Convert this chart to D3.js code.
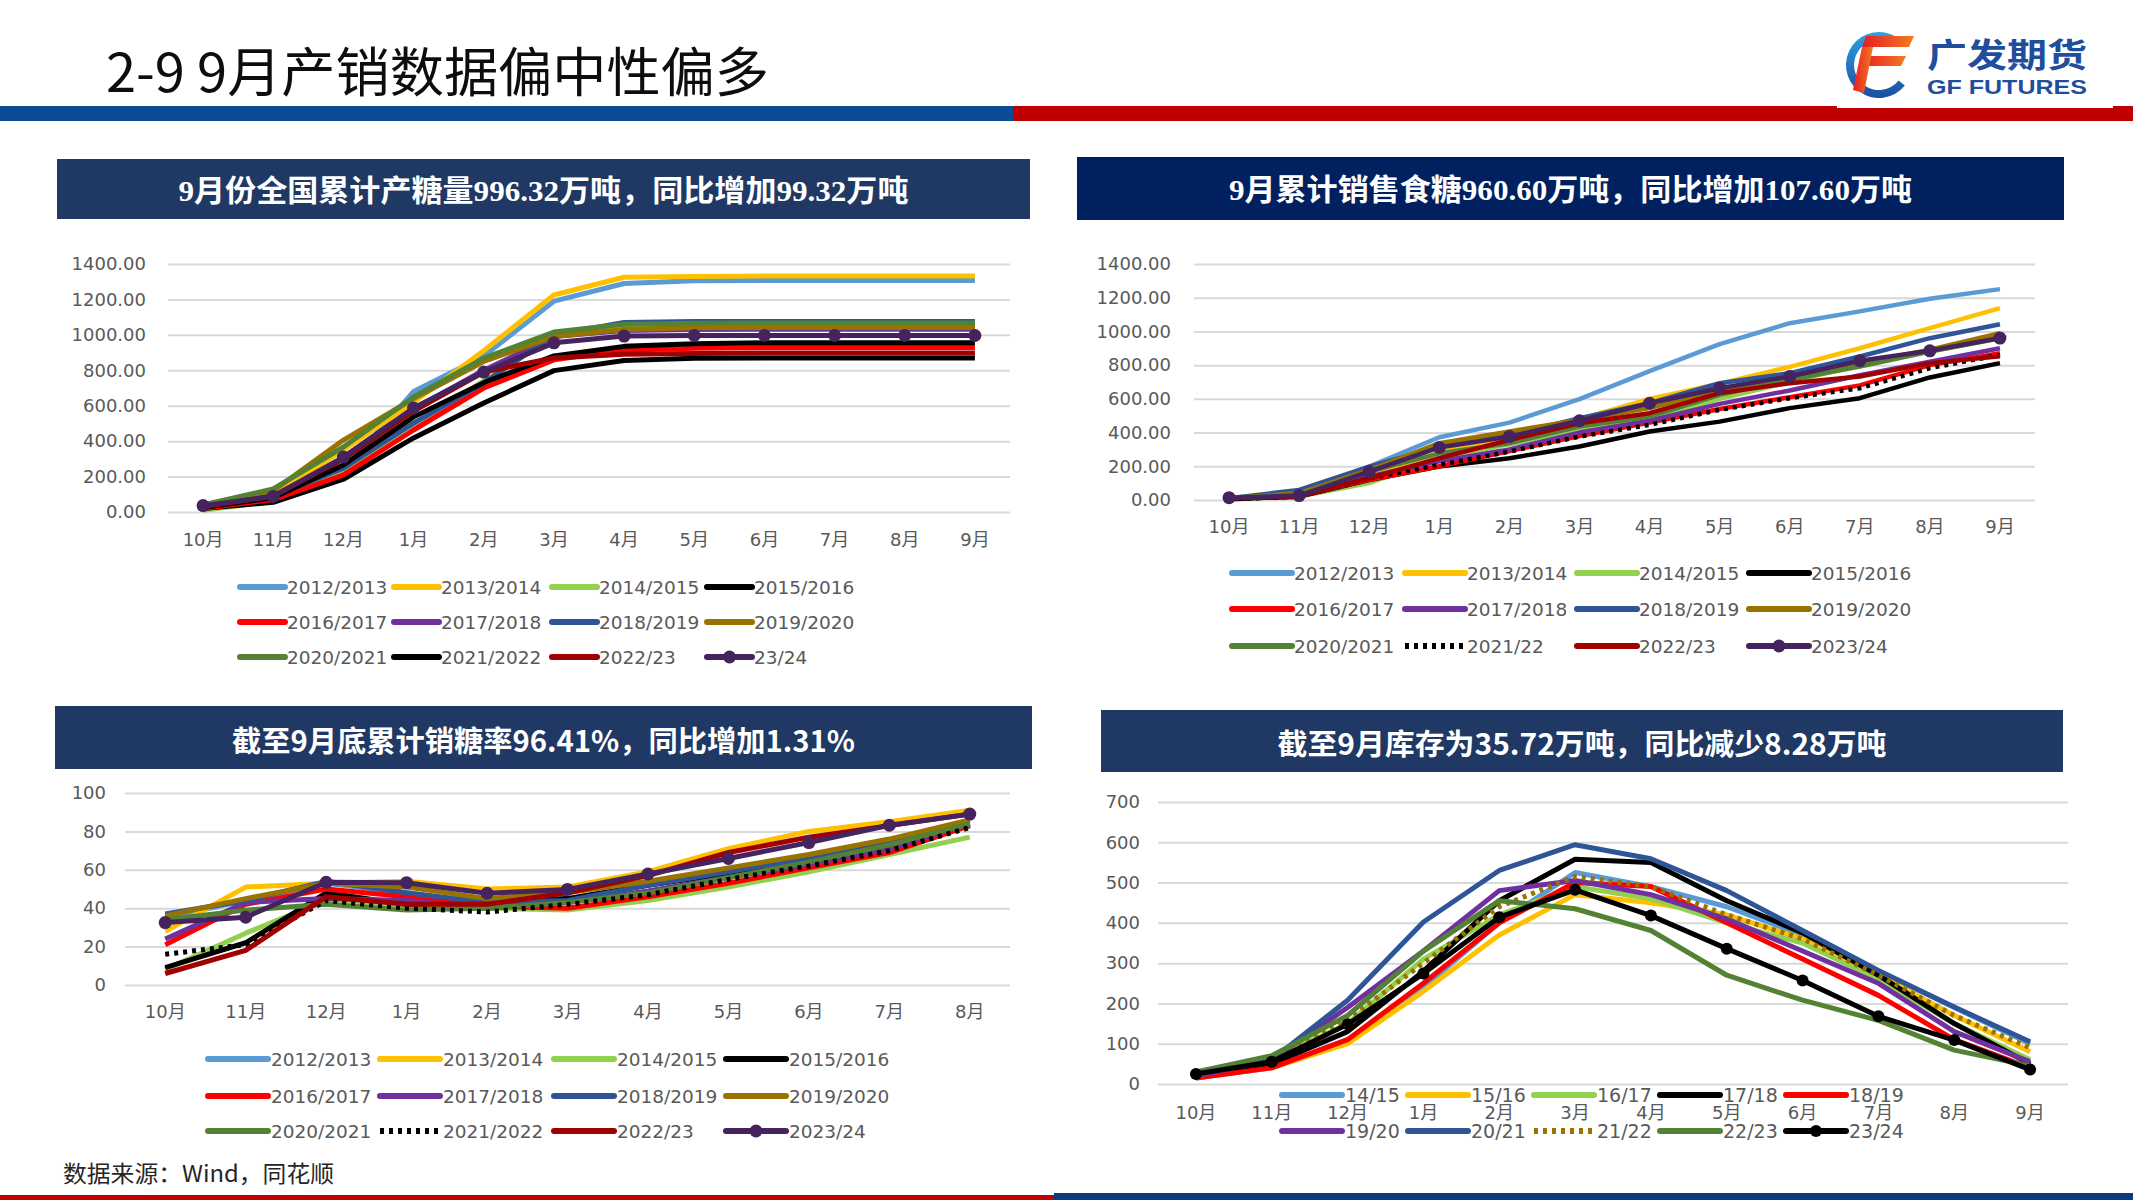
<!DOCTYPE html>
<html>
<head>
<meta charset="utf-8">
<script src="https://cdn.jsdelivr.net/npm/d3@7"></script>
<style>
html,body{margin:0;padding:0;background:#fff;}
svg{display:block;}
</style>
</head>
<body>
<script>
// ---------------- DATA ----------------
const months12 = ["10月","11月","12月","1月","2月","3月","4月","5月","6月","7月","8月","9月"];
const months11 = ["10月","11月","12月","1月","2月","3月","4月","5月","6月","7月","8月"];

const prodSeasons = ["2012/2013","2013/2014","2014/2015","2015/2016","2016/2017","2017/2018","2018/2019","2019/2020","2020/2021","2021/2022","2022/23","23/24"];
const prodValues = [
  [20, 90, 230, 680, 880, 1190, 1290, 1305, 1307, 1307, 1307, 1307],
  [30, 100, 350, 620, 910, 1225, 1325, 1330, 1332, 1332, 1332, 1332],
  [10, 60, 230, 490, 740, 990, 1040, 1055, 1056, 1056, 1056, 1056],
  [20, 55, 185, 418, 615, 798, 855, 868, 870, 870, 870, 870],
  [20, 70, 209, 463, 700, 859, 915, 925, 929, 929, 929, 929],
  [30, 80, 300, 580, 800, 990, 1025, 1030, 1031, 1031, 1031, 1031],
  [30, 90, 248, 502, 728, 1000, 1070, 1075, 1076, 1076, 1076, 1076],
  [40, 120, 406, 640, 850, 990, 1030, 1040, 1041, 1041, 1041, 1041],
  [40, 130, 367, 649, 869, 1016, 1060, 1066, 1067, 1067, 1067, 1067],
  [25, 80, 265, 537, 730, 881, 935, 950, 956, 956, 956, 956],
  [30, 90, 300, 570, 790, 870, 890, 895, 897, 897, 897, 897],
  [36, 88, 310, 587, 790, 955, 993, 996.32, 996.32, 996.32, 996.32, 996.32]
];

const salesSeasons = ["2012/2013","2013/2014","2014/2015","2015/2016","2016/2017","2017/2018","2018/2019","2019/2020","2020/2021","2021/22","2022/23","2023/24"];
const salesValues = [
  [10, 40, 198, 372, 459, 598, 764, 925, 1049, 1119, 1194, 1251],
  [10, 30, 150, 280, 380, 480, 600, 690, 790, 900, 1020, 1138],
  [5, 20, 100, 250, 330, 420, 480, 600, 700, 800, 880, 960],
  [5, 20, 119, 198, 248, 317, 406, 465, 545, 604, 727, 812],
  [10, 25, 120, 200, 290, 380, 460, 540, 610, 680, 800, 871],
  [10, 30, 140, 230, 300, 400, 470, 570, 650, 740, 820, 900],
  [10, 60, 198, 317, 386, 485, 574, 693, 752, 851, 960, 1043],
  [10, 40, 178, 337, 406, 475, 545, 653, 713, 812, 891, 990],
  [10, 30, 168, 277, 337, 436, 495, 624, 713, 792, 881, 960],
  [5, 20, 129, 208, 287, 376, 446, 535, 604, 663, 782, 861],
  [10, 20, 129, 248, 356, 455, 515, 634, 693, 733, 812, 853],
  [14, 26, 168, 312, 376, 470, 574, 663, 733, 826, 885, 960.6]
];

const rateSeasons = ["2012/2013","2013/2014","2014/2015","2015/2016","2016/2017","2017/2018","2018/2019","2019/2020","2020/2021","2021/2022","2022/23","2023/24"];
const rateValues = [
  [35, 44, 53, 48, 42, 45, 52, 60, 66, 75, 86],
  [28, 51, 53, 54, 50, 51, 59, 71, 80, 85, 91],
  [8, 27, 44, 40, 40, 39, 44, 51, 59, 68, 77],
  [9, 22, 48, 42, 43, 45, 52, 58, 65, 72, 83],
  [21, 42, 50, 46, 41, 40, 46, 53, 61, 69, 83],
  [24, 43, 45, 44, 40, 43, 49, 56, 63, 71, 84],
  [37, 44, 54, 48, 43, 44, 52, 59, 66, 74, 84],
  [36, 45, 53, 51, 45, 48, 54, 61, 68, 76, 86],
  [34, 39, 42, 39, 40, 43, 48, 56, 64, 73, 84],
  [16, 21, 44, 40, 38, 42, 47, 55, 62, 70, 82],
  [6, 18, 46, 42, 42, 48, 57, 69, 77, 83, 89],
  [32.5, 35.3, 53.5, 53.3, 47.8, 49.8, 57.8, 65.9, 74.2, 83.2, 89]
];

const invSeasons = ["14/15","15/16","16/17","17/18","18/19","19/20","20/21","21/22","22/23","23/24"];
const invValues = [
  [15, 40, 110, 240, 400, 525, 490, 440, 370, 280, 190, 100],
  [20, 40, 100, 230, 370, 470, 450, 420, 360, 270, 170, 80],
  [25, 60, 150, 310, 420, 490, 460, 400, 350, 260, 150, 60],
  [20, 50, 130, 280, 455, 558, 550, 455, 375, 270, 150, 50],
  [15, 40, 110, 250, 400, 500, 490, 400, 310, 220, 110, 40],
  [20, 60, 190, 330, 480, 505, 470, 410, 330, 250, 130, 55],
  [25, 60, 208, 402, 530, 594, 559, 480, 381, 282, 191, 105],
  [25, 55, 160, 300, 440, 515, 490, 420, 360, 270, 170, 90],
  [30, 70, 170, 330, 455, 435, 381, 270, 208, 158, 84, 45],
  [25, 55, 148, 274, 414, 482, 418, 336, 257, 168, 109, 35.72]
];

const tickHundreds = [0, 200, 400, 600, 800, 1000, 1200, 1400];
const tickRate = [0, 20, 40, 60, 80, 100];
const tickInv = [0, 100, 200, 300, 400, 500, 600, 700];

// ---------------- STYLES ----------------
const C = {lb:"#5B9BD5", y:"#FFC000", lg:"#92D050", k:"#000000", r:"#FF0000", p:"#7030A0",
           db:"#2F5597", ol:"#997300", g:"#548235", dr:"#A00000", dp:"#45235F"};
const styleA = [
  {c:C.lb},{c:C.y},{c:C.lg},{c:C.k},{c:C.r},{c:C.p},{c:C.db},{c:C.ol},{c:C.g},{c:C.k},{c:C.dr},{c:C.dp, m:true}
];
const styleB = [
  {c:C.lb},{c:C.y},{c:C.lg},{c:C.k},{c:C.r},{c:C.p},{c:C.db},{c:C.ol},{c:C.g},{c:C.k, dot:true},{c:C.dr},{c:C.dp, m:true}
];
const styleD = [
  {c:C.lb},{c:C.y},{c:C.lg},{c:C.k},{c:C.r},{c:C.p},{c:C.db},{c:C.ol, dot:true},{c:C.g},{c:C.k, m:true}
];

const W = 2133, H = 1200;
const svg = d3.select("body").append("svg").attr("width", W).attr("height", H)
  .attr("font-family", "'DejaVu Sans','Noto Sans CJK SC',sans-serif");

// ---------------- HEADER ----------------
svg.append("rect").attr("x",0).attr("y",106).attr("width",1013).attr("height",15).attr("fill","#0A4B93");
svg.append("rect").attr("x",1013).attr("y",106).attr("width",W-1013).attr("height",15).attr("fill","#C00000");
svg.append("rect").attr("x",1837).attr("y",0).attr("width",276).attr("height",108).attr("fill","#fff");
svg.append("text").attr("x",106).attr("y",92)
  .attr("font-family","'Noto Sans CJK SC',sans-serif").attr("font-size",53).attr("fill","#0d0d0d")
  .attr("textLength",663).attr("lengthAdjust","spacingAndGlyphs")
  .text("2-9 9月产销数据偏中性偏多");

// logo
const defs = svg.append("defs");
const gb = defs.append("linearGradient").attr("id","lgBlue").attr("x1","0").attr("y1","0").attr("x2","0").attr("y2","1");
gb.append("stop").attr("offset","0").attr("stop-color","#2AA2E3");
gb.append("stop").attr("offset","1").attr("stop-color","#1C4FA0");
const gr = defs.append("linearGradient").attr("id","lgRed").attr("x1","0").attr("y1","0").attr("x2","1").attr("y2","0");
gr.append("stop").attr("offset","0").attr("stop-color","#E31E24");
gr.append("stop").attr("offset","1").attr("stop-color","#F47B20");
const lg = svg.append("g");
const arc = d3.arc().innerRadius(25).outerRadius(33).startAngle(0.6).endAngle(-Math.PI - 0.9);
lg.append("path").attr("d", arc()).attr("transform","translate(1879,65)").attr("fill","url(#lgBlue)");
lg.append("path").attr("d","M1866,36 L1914,36 L1909,47 L1862,47 Z").attr("fill","url(#lgRed)");
lg.append("path").attr("d","M1864,56 L1906,56 L1901,66 L1860,66 Z").attr("fill","url(#lgRed)");
lg.append("path").attr("d","M1862,47 L1873,47 L1864,93 L1853,90 Z").attr("fill","url(#lgRed)");
lg.append("text").attr("x",1927).attr("y",53).attr("dominant-baseline","central")
  .attr("font-family","'Noto Sans CJK SC',sans-serif")
  .attr("font-weight","bold").attr("font-size",33).attr("fill","#1F4E9C")
  .attr("textLength",160).attr("lengthAdjust","spacingAndGlyphs").text("广发期货");
lg.append("text").attr("x",1927).attr("y",87).attr("dominant-baseline","central")
  .attr("font-family","'Liberation Sans',sans-serif")
  .attr("font-weight","bold").attr("font-size",20).attr("fill","#1F4E9C")
  .attr("textLength",160).attr("lengthAdjust","spacingAndGlyphs").text("GF FUTURES");

// footer
svg.append("rect").attr("x",0).attr("y",1195).attr("width",1054).attr("height",5).attr("fill","#C00000");
svg.append("rect").attr("x",1054).attr("y",1193).attr("width",W-1054).attr("height",7).attr("fill","#0B3A7E");
svg.append("text").attr("x",63).attr("y",1172).attr("dominant-baseline","central")
  .attr("font-family","'Noto Sans CJK SC',sans-serif").attr("font-size",23).attr("fill","#262626")
  .attr("textLength",271).attr("lengthAdjust","spacingAndGlyphs")
  .text("数据来源：Wind，同花顺");

// ---------------- CHART FUNCTION ----------------
function drawChart(o) {
  const g = svg.append("g");
  // title box
  g.append("rect").attr("x",o.box[0]).attr("y",o.box[1]).attr("width",o.box[2]).attr("height",o.box[3]).attr("fill",o.boxFill);
  g.append("text").attr("x",o.box[0]+o.box[2]/2).attr("y",o.box[1]+o.box[3]/2+1)
    .attr("text-anchor","middle").attr("dominant-baseline","central")
    .attr("font-family",o.titleFont).attr("font-weight","bold").attr("font-size",o.titleSize).attr("fill","#fff")
    .attr("textLength",o.titleLen).attr("lengthAdjust","spacingAndGlyphs").text(o.title);

  const x = d3.scaleBand().domain(o.cats).range([o.x0, o.x1]).padding(0);
  const y = d3.scaleLinear().domain([0, o.yMax]).range([o.yBot, o.yTop]);
  const cx = c => x(c) + x.bandwidth()/2;

  // y axis with gridlines
  const ya = g.append("g").attr("transform",`translate(${o.x0},0)`)
    .call(d3.axisLeft(y).tickValues(o.ticks).tickFormat(o.fmt).tickSize(-(o.x1-o.x0)).tickPadding(o.x0 - o.labelRight));
  ya.select(".domain").remove();
  ya.selectAll(".tick line").attr("stroke","#D9D9D9").attr("stroke-width",2);
  ya.selectAll(".tick text").attr("fill","#595959").attr("font-size",18)
    .attr("font-family","'DejaVu Sans',sans-serif");

  // x axis labels
  const xa = g.append("g").attr("transform",`translate(0,${o.yBot})`)
    .call(d3.axisBottom(x).tickSize(0));
  xa.select(".domain").remove();
  xa.selectAll(".tick text").attr("y", o.xLabelY - o.yBot).attr("dy","0.35em")
    .attr("fill","#595959").attr("font-size",18).attr("font-family","'DejaVu Sans','Noto Sans CJK SC',sans-serif");

  const line = d3.line().x((d,i) => cx(o.cats[i])).y(d => y(d));
  o.values.forEach((vals, si) => {
    const st = o.styles[si];
    const p = g.append("path").datum(vals).attr("d", line).attr("fill","none")
      .attr("stroke", st.c).attr("stroke-width", o.lw).attr("stroke-linejoin","round");
    if (st.dot) p.attr("stroke-dasharray", o.dash);
    if (st.m) {
      g.selectAll(null).data(vals).enter().append("circle")
        .attr("cx",(d,i)=>cx(o.cats[i])).attr("cy",d=>y(d)).attr("r",o.mr).attr("fill",st.c);
    }
  });

  // legend
  const L = o.legend;
  o.names.forEach((nm, i) => {
    const st = o.styles[i];
    const row = Math.floor(i / L.perRow), col = i % L.perRow;
    const sx = L.cols[col], sy = L.rows[row];
    const ln = g.append("line").attr("x1",sx).attr("x2",sx+L.len).attr("y1",sy).attr("y2",sy)
      .attr("stroke",st.c).attr("stroke-width",L.lw).attr("stroke-linecap", st.dot ? "butt" : "round");
    if (st.dot) ln.attr("stroke-dasharray", o.dash);
    if (st.m) g.append("circle").attr("cx",sx+L.len/2).attr("cy",sy).attr("r",o.mr).attr("fill",st.c);
    g.append("text").attr("x",sx+L.gap).attr("y",sy).attr("dominant-baseline","central")
      .attr("fill","#595959").attr("font-size",L.fs).attr("font-family","'DejaVu Sans',sans-serif").text(nm);
  });
}

const fmt2 = d3.format(".2f");
const fmt0 = d3.format("d");

drawChart({
  box:[57,159,973,60], boxFill:"#203864",
  title:"9月份全国累计产糖量996.32万吨，同比增加99.32万吨",
  titleFont:"'Liberation Serif','Noto Sans CJK SC',serif", titleSize:30, titleLen:730,
  cats:months12, x0:168, x1:1010, yTop:264, yBot:512, yMax:1400, ticks:tickHundreds, fmt:fmt2,
  labelRight:146, xLabelY:540, lw:5, mr:6.5, dash:"5,5",
  values:prodValues, names:prodSeasons, styles:styleA,
  legend:{rows:[587,622,657], cols:[240,394,552,707], perRow:4, len:45, gap:47, lw:6, fs:18.5}
});

drawChart({
  box:[1077,157,987,63], boxFill:"#002060",
  title:"9月累计销售食糖960.60万吨，同比增加107.60万吨",
  titleFont:"'Liberation Serif','Noto Sans CJK SC',serif", titleSize:30, titleLen:683,
  cats:months12, x0:1194, x1:2035, yTop:264, yBot:500, yMax:1400, ticks:tickHundreds, fmt:fmt2,
  labelRight:1171, xLabelY:527, lw:4.5, mr:6.5, dash:"4,5",
  values:salesValues, names:salesSeasons, styles:styleB,
  legend:{rows:[573,609,646], cols:[1232,1405,1577,1749], perRow:4, len:60, gap:62, lw:6, fs:18.5}
});

drawChart({
  box:[55,706,977,63], boxFill:"#1F3864",
  title:"截至9月底累计销糖率96.41%，同比增加1.31%",
  titleFont:"'Noto Sans CJK SC',sans-serif", titleSize:29, titleLen:623,
  cats:months11, x0:125, x1:1010, yTop:793, yBot:985, yMax:100, ticks:tickRate, fmt:fmt0,
  labelRight:106, xLabelY:1012, lw:5, mr:6.5, dash:"4,5",
  values:rateValues, names:rateSeasons, styles:styleB,
  legend:{rows:[1059,1096,1131], cols:[208,380,554,726], perRow:4, len:60, gap:63, lw:6, fs:18.5}
});

drawChart({
  box:[1101,710,962,62], boxFill:"#1F3864",
  title:"截至9月库存为35.72万吨，同比减少8.28万吨",
  titleFont:"'Noto Sans CJK SC',sans-serif", titleSize:29, titleLen:609,
  cats:months12, x0:1158, x1:2068, yTop:802, yBot:1084, yMax:700, ticks:tickInv, fmt:fmt0,
  labelRight:1140, xLabelY:1113, lw:5, mr:6, dash:"4,5",
  values:invValues, names:invSeasons, styles:styleD,
  legend:{rows:[1095,1131], cols:[1282,1408,1534,1660,1786], perRow:5, len:60, gap:63, lw:6, fs:19}
});
</script>
</body>
</html>
